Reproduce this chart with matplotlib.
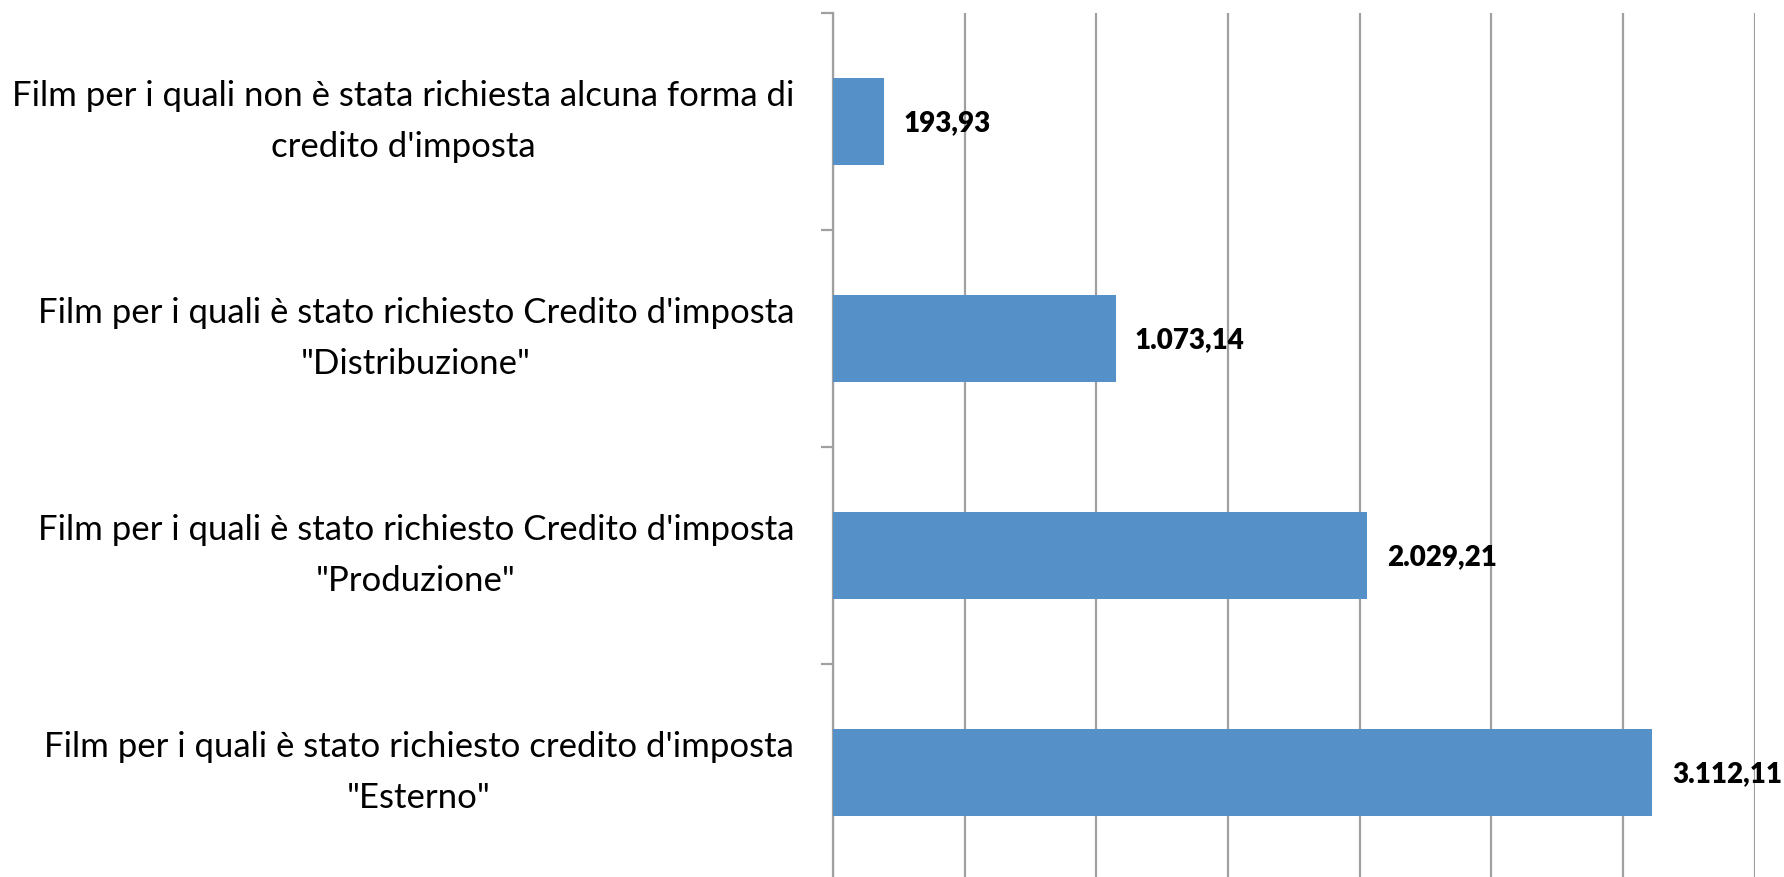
import matplotlib
matplotlib.use("Agg")
import matplotlib.pyplot as plt
import numpy as np

categories = [
    "Film per i quali non è stata richiesta alcuna forma di\ncredito d'imposta",
    "Film per i quali è stato richiesto Credito d'imposta\n\"Distribuzione\"",
    "Film per i quali è stato richiesto Credito d'imposta\n\"Produzione\"",
    "Film per i quali è stato richiesto credito d'imposta\n\"Esterno\"",
]
values = [193.93, 1073.14, 2029.21, 3112.11]


def it_fmt(v):
    s = f"{v:,.2f}"
    return s.replace(",", "X").replace(".", ",").replace("X", ".")


plt.rcParams['font.family'] = ['Lato', 'DejaVu Sans']

fig = plt.figure(figsize=(17.84, 8.77), dpi=100)
ax = fig.add_axes([833 / 1784, 1 - 881 / 877, (1754.5 - 833) / 1784, (881 - 13) / 877])

y = np.arange(len(categories))
ax.barh(y, values, height=0.4, color='#5690c8', zorder=3)

for yi, v in zip(y, values):
    ax.annotate(it_fmt(v), (v, yi), xytext=(14, -1), textcoords='offset points',
                ha='left', va='center', fontsize=20, fontweight='heavy', color='black',
                annotation_clip=False, zorder=4)

ax.set_xlim(0, 3500)
ax.set_ylim(len(categories) - 0.5, -0.5)
ax.set_xticks(np.arange(0, 3501, 500))
ax.tick_params(axis='x', length=0, labelbottom=False)
ax.grid(axis='x', color='#a0a0a0', linewidth=1.6, zorder=0)

ax.set_yticks(y)
ax.set_yticklabels(categories, fontsize=25, multialignment='center', va='center')
for lab in ax.get_yticklabels():
    lab.set_linespacing(1.75)
ax.tick_params(axis='y', which='major', length=0, pad=28)
ax.set_yticks(np.arange(-0.5, len(categories), 1.0), minor=True)
ax.tick_params(axis='y', which='minor', length=9, width=1.6, color='#a0a0a0')

for side in ['top', 'right', 'bottom']:
    ax.spines[side].set_visible(False)
ax.spines['left'].set_color('#a0a0a0')
ax.spines['left'].set_linewidth(1.6)

fig.savefig("out.png", dpi=100, facecolor='white')
